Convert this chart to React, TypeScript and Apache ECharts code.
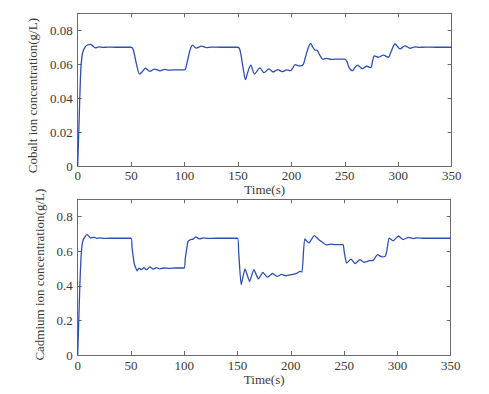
import React, { useEffect, useRef } from "react";
import * as echarts from "echarts";

const timeTicks = [0, 50, 100, 150, 200, 250, 300, 350];

const cobaltTime = [0, 1, 2, 3, 4, 5, 7, 9, 12, 14, 16.5, 20, 24, 28, 35, 50, 52, 55, 58, 60, 63.5, 67.5, 72, 77, 81.5, 86, 92, 100, 102, 105, 107.5, 111, 116, 120.5, 125, 135, 150, 152, 155, 157, 159, 162, 165.5, 170.5, 174.3, 179, 183, 187.4, 191.2, 195.6, 199.3, 201, 203.4, 206, 208, 211, 213, 216, 218, 220, 222, 224, 226, 229.5, 233, 237, 241, 245, 250, 252, 254, 257, 261.7, 266.4, 270.4, 274.2, 276, 277.6, 281.3, 286, 290.7, 293, 297, 301.6, 306.3, 311, 315.6, 320, 325, 335, 350];
const cobaltValue = [0, 0.02, 0.041, 0.058, 0.0645, 0.0675, 0.0702, 0.0713, 0.0717, 0.0708, 0.0696, 0.0702, 0.0699, 0.0701, 0.07, 0.07, 0.0685, 0.06, 0.0541, 0.0553, 0.0576, 0.0558, 0.0571, 0.0561, 0.0569, 0.0565, 0.0567, 0.0567, 0.06, 0.068, 0.0713, 0.0695, 0.0706, 0.0698, 0.0701, 0.07, 0.07, 0.068, 0.057, 0.0509, 0.055, 0.0594, 0.0542, 0.0578, 0.055, 0.0572, 0.0554, 0.0568, 0.0556, 0.0566, 0.0562, 0.0575, 0.0597, 0.0592, 0.059, 0.0598, 0.064, 0.07, 0.0723, 0.07, 0.0684, 0.0682, 0.066, 0.0629, 0.0634, 0.0628, 0.063, 0.063, 0.063, 0.0615, 0.058, 0.0562, 0.0595, 0.0574, 0.0588, 0.058, 0.062, 0.0649, 0.0641, 0.0653, 0.0641, 0.067, 0.0719, 0.069, 0.0708, 0.0694, 0.0702, 0.0699, 0.0701, 0.07, 0.07];

const cadmiumTime = [0, 1, 2, 3, 4, 5.3, 8.4, 10, 12.2, 15.3, 17.8, 21, 25, 30, 50, 51, 53, 55.8, 57.5, 59.9, 62, 64.6, 67.7, 70.8, 73.9, 77, 81, 86, 92, 100, 101, 103.5, 106, 108.2, 110.7, 114.4, 118, 122, 130, 150, 151, 153.4, 157, 161.3, 165.3, 169.6, 173.7, 178, 182.8, 187.2, 191.2, 195.6, 200.3, 205, 208.7, 210.5, 213, 216.8, 222, 226, 230, 233.5, 237.7, 242, 249, 250, 252.3, 256.4, 260.4, 264.8, 268.9, 273.6, 277.3, 281.3, 285.4, 288.5, 290, 292.2, 296, 301, 305.4, 310.4, 314.8, 318.9, 325, 350];
const cadmiumValue = [0, 0.2, 0.4, 0.55, 0.63, 0.667, 0.696, 0.69, 0.676, 0.681, 0.674, 0.677, 0.674, 0.675, 0.675, 0.62, 0.53, 0.487, 0.502, 0.493, 0.505, 0.493, 0.509, 0.497, 0.505, 0.498, 0.503, 0.501, 0.503, 0.503, 0.56, 0.657, 0.667, 0.67, 0.683, 0.671, 0.677, 0.674, 0.675, 0.675, 0.6, 0.406, 0.497, 0.425, 0.493, 0.44, 0.477, 0.45, 0.471, 0.454, 0.466, 0.458, 0.464, 0.47, 0.483, 0.48, 0.671, 0.648, 0.69, 0.668, 0.65, 0.636, 0.641, 0.638, 0.638, 0.6, 0.531, 0.554, 0.528, 0.551, 0.536, 0.545, 0.547, 0.58, 0.567, 0.57, 0.6, 0.676, 0.66, 0.688, 0.667, 0.68, 0.673, 0.677, 0.675, 0.675];

const cobaltName = "Cobalt ion concentration(g/L)";
const cadmiumName = "Cadmium ion concentration(g/L)";
const timeName = "Time(s)";

const FONT = "Liberation Serif";
const TEXT = "#3d3833";
const AXIS = "#6a6a6a";
const LINE = "#2d4fae";

export default function App() {
  const ref = useRef<HTMLDivElement>(null);
  useEffect(() => {
    if (!ref.current) return;
    const chart = echarts.init(ref.current, null, { renderer: "svg" });
    const axisLine = { show: true, onZero: false, lineStyle: { color: AXIS, width: 1 } };
    const tick = { show: true, inside: true, length: 4, lineStyle: { color: AXIS } };
    const label = { color: TEXT, fontFamily: FONT, fontSize: 13 };
    const xMain = (gi: number, gap: number, margin: number) => ({
      type: "value",
      gridIndex: gi,
      position: "bottom",
      min: timeTicks[0],
      max: timeTicks[timeTicks.length - 1],
      interval: 50,
      axisLine,
      axisTick: tick,
      axisLabel: { ...label, margin },
      splitLine: { show: false },
      name: timeName,
      nameLocation: "middle",
      nameGap: gap,
      nameTextStyle: { ...label },
    });
    const xTop = (gi: number) => ({
      type: "value",
      gridIndex: gi,
      position: "top",
      min: timeTicks[0],
      max: timeTicks[timeTicks.length - 1],
      interval: 50,
      axisLine,
      axisTick: tick,
      axisLabel: { show: false },
      splitLine: { show: false },
    });
    const yMain = (gi: number, max: number, interval: number, name: string, pad: number[]) => ({
      type: "value",
      gridIndex: gi,
      position: "left",
      min: 0,
      max,
      interval,
      axisLine,
      axisTick: tick,
      axisLabel: { ...label, margin: 5, showMaxLabel: false },
      showMaxLabel: false,
      splitLine: { show: false },
      name,
      nameLocation: "middle",
      nameGap: 30,
      nameTextStyle: { ...label, padding: pad },
    });
    const yRight = (gi: number, max: number, interval: number) => ({
      type: "value",
      gridIndex: gi,
      position: "right",
      min: 0,
      max,
      interval,
      axisLine,
      axisTick: tick,
      axisLabel: { show: false },
      splitLine: { show: false },
    });
    const pairs = (t: number[], v: number[]) => t.map((x, i) => [x, v[i]]);
    chart.setOption({
      animation: false,
      backgroundColor: "#ffffff",
      grid: [
        { left: 77.7, right: 37.3, top: 13.3, height: 152.7 },
        { left: 77.7, right: 38.3, top: 199.3, height: 155.7 },
      ],
      xAxis: [xMain(0, 14, 3), xTop(0), xMain(1, 16, 4), xTop(1)],
      yAxis: [
        yMain(0, 0.09, 0.02, cobaltName, [0, 12, 0, 0]),
        yRight(0, 0.09, 0.02),
        yMain(1, 0.9, 0.2, cadmiumName, [0, 0, 0, 5]),
        yRight(1, 0.9, 0.2),
      ],
      series: [
        {
          type: "line",
          xAxisIndex: 0,
          yAxisIndex: 0,
          data: pairs(cobaltTime, cobaltValue),
          showSymbol: false,
          smooth: 0.3,
          lineStyle: { color: LINE, width: 1.3 },
        },
        {
          type: "line",
          xAxisIndex: 2,
          yAxisIndex: 2,
          data: pairs(cadmiumTime, cadmiumValue),
          showSymbol: false,
          smooth: 0.15,
          lineStyle: { color: LINE, width: 1.3 },
        },
      ],
    });
    return () => chart.dispose();
  }, []);
  return (
    <div
      ref={ref}
      style={{ position: "absolute", left: 0, top: 0, width: 489, height: 394, background: "#fff" }}
    />
  );
}
